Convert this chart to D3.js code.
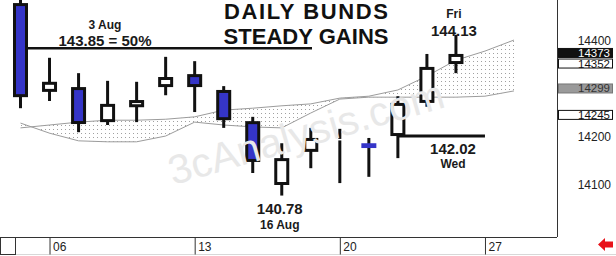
<!DOCTYPE html>
<html>
<head>
<meta charset="utf-8">
<script src="https://cdn.jsdelivr.net/npm/d3@7"></script>
<style>
  body { margin: 0; background: #fff; }
  svg { display: block; font-family: "Liberation Sans", Arial, sans-serif; }
</style>
</head>
<body>
<svg width="616" height="256"></svg>
<script>
// trading days (last two are forward cloud points)
let days   = ["03","06","07","08","09","10","13","14","15","16","17","20","21","22","23","24","27","28"];
let opens  = [14479,14294,14304,14231,14262,14304,14331,14298,14233,14100,14169,14193,14187,14202,14271,14352];
let highs  = [14490,14365,14333,14317,14315,14367,14358,14306,14242,14187,14219,14217,14198,14285,14373,14413];
let lows   = [14260,14275,14210,14225,14231,14287,14252,14219,14125,14078,14135,14104,14117,14156,14263,14333];
let closes = [14283,14315,14227,14269,14277,14325,14304,14235,14148,14156,14198,14196,14177,14271,14346,14373];
let spanA  = [14219,14225,14231,14235,14235,14237,14242,14256,14260,14265,14269,14281,14285,14298,14327,14360,14379,14402];
let spanB  = [14229,14208,14192,14190,14190,14202,14231,14225,14221,14219,14250,14279,14283,14283,14283,14283,14285,14296];
let dayTicks   = ["06","13","20","27"];
let priceTicks = [14100,14200,14400];
let boxValues  = [14373,14352,14299,14245];

let PLOT_W = 557, PLOT_H = 237;
let BLUE = "#3535c8";

let svg = d3.select("svg");

let x = d3.scalePoint().domain(days).range([20.5, 514]);
let y = d3.scaleLinear().domain([14100, 14400]).range([185, 41]);

svg.append("defs").append("clipPath").attr("id", "plot")
   .append("rect").attr("width", PLOT_W).attr("height", PLOT_H);

let dots = svg.select("defs").append("pattern")
   .attr("id", "dots").attr("width", 4).attr("height", 4)
   .attr("patternUnits", "userSpaceOnUse");
dots.append("rect").attr("x", 1).attr("y", 1).attr("width", 1).attr("height", 1).attr("fill", "#a0a0a0");

let plot = svg.append("g").attr("clip-path", "url(#plot)");

// cloud
let area = d3.area()
   .x((d, i) => x(days[i]))
   .y0((d, i) => y(spanA[i]))
   .y1((d, i) => y(spanB[i]));
plot.append("path").attr("d", area(days)).attr("fill", "url(#dots)");
[spanA, spanB].forEach(s => {
    plot.append("path")
        .attr("d", d3.line().x((d, i) => x(days[i])).y(d => y(d))(s))
        .attr("fill", "none").attr("stroke", "#9c9c9c").attr("stroke-width", 1);
});

// watermark
svg.append("text")
   .attr("transform", "translate(310,146) rotate(-16)")
   .attr("text-anchor", "middle")
   .attr("font-size", 41)
   .attr("fill", "#e8e8e8")
   .text("3cAnalysis.com");

// 50% line and Wed line
plot.append("line")
    .attr("x1", x("03")).attr("x2", 312)
    .attr("y1", y(14385)).attr("y2", y(14385))
    .attr("stroke", "#111").attr("stroke-width", 2.5);
plot.append("line")
    .attr("x1", x("22")).attr("x2", x("27"))
    .attr("y1", y(14202)).attr("y2", y(14202))
    .attr("stroke", "#111").attr("stroke-width", 3);

// candles
let candles = plot.selectAll("g.c")
   .data(opens.map((o, i) => ({ day: days[i], o: o, h: highs[i], l: lows[i], c: closes[i] })))
   .enter().append("g");

candles.append("line")
   .attr("x1", d => x(d.day)).attr("x2", d => x(d.day))
   .attr("y1", d => y(d.h)).attr("y2", d => y(d.l))
   .attr("stroke", "#111").attr("stroke-width", 3);

let BW = 15;
candles.append("rect")
   .each(function (d) {
       let top = y(Math.max(d.o, d.c)), bot = y(Math.min(d.o, d.c));
       let h = bot - top;
       let el = d3.select(this);
       let fill = d.c < d.o ? BLUE : "#fff";
       if (h < 7) {
           el.attr("x", x(d.day) - BW / 2).attr("width", BW)
             .attr("y", top).attr("height", Math.max(h, 1.5))
             .attr("fill", fill);
       } else {
           el.attr("x", x(d.day) - BW / 2 + 1.5).attr("width", BW - 3)
             .attr("y", top + 1.5).attr("height", h - 3)
             .attr("fill", fill).attr("stroke", "#111").attr("stroke-width", 3);
       }
   });

// plot frame
svg.append("line").attr("x1", 0).attr("x2", PLOT_W).attr("y1", PLOT_H + 0.5).attr("y2", PLOT_H + 0.5)
   .attr("stroke", "#333").attr("stroke-width", 1);
svg.append("line").attr("x1", PLOT_W + 0.5).attr("x2", PLOT_W + 0.5).attr("y1", 0).attr("y2", PLOT_H)
   .attr("stroke", "#333").attr("stroke-width", 1);
svg.append("line").attr("x1", 0).attr("x2", 616).attr("y1", 254.5).attr("y2", 254.5)
   .attr("stroke", "#d8d8d8");
svg.append("rect").attr("x", 0.5).attr("y", PLOT_H + 0.5).attr("width", 15).attr("height", 17)
   .attr("fill", "none").attr("stroke", "#333");

// x axis
let xAxis = svg.append("g").attr("transform", "translate(0," + (PLOT_H + 0.5) + ")")
   .call(d3.axisBottom(x).tickValues(dayTicks).tickSize(17).tickPadding(0));
xAxis.select(".domain").remove();
xAxis.selectAll(".tick line").attr("stroke", "#333");
xAxis.selectAll(".tick text")
   .attr("text-anchor", "start").attr("dx", 3).attr("y", 5).attr("dy", "0.71em")
   .attr("font-size", 12).attr("font-family", "Liberation Sans, Arial").attr("fill", "#222");

// y axis (right)
let yAxis = svg.append("g").attr("transform", "translate(611,0)")
   .call(d3.axisRight(y).tickValues(priceTicks).tickFormat(d3.format("d")).tickSize(0).tickPadding(0));
yAxis.select(".domain").remove();
yAxis.selectAll(".tick text")
   .attr("text-anchor", "end").attr("font-size", 12)
   .attr("font-family", "Liberation Sans, Arial").attr("fill", "#222");

let boxFill   = ["#111", "#fff", "#9a9a9a", "#fff"];
let boxText   = ["#fff", "#111", "#333", "#111"];
let boxStroke = ["#111", "#111", "#777", "#111"];
let boxShift  = [-5.5, -5, -5.5, -5];
boxValues.forEach((v, i) => {
    svg.append("rect")
       .attr("x", 558.5).attr("y", y(v) + boxShift[i]).attr("width", 54).attr("height", 9)
       .attr("fill", boxFill[i]).attr("stroke", boxStroke[i]).attr("stroke-width", 1);
    svg.append("text")
       .attr("x", 610).attr("y", y(v) + boxShift[i] + 8.5)
       .attr("text-anchor", "end").attr("font-size", 11.5)
       .attr("fill", boxText[i]).text(v);
});

// red arrow
svg.append("path")
   .attr("d", "M598,244.5 L605,238 L605,241.5 L613,241.5 L613,247.5 L605,247.5 L605,251 Z")
   .attr("fill", "#e8121a");

// titles
svg.append("text").attr("x", 306).attr("y", 19).attr("text-anchor", "middle")
   .attr("font-size", 22).attr("font-weight", "bold").attr("fill", "#111")
   .attr("textLength", 164).attr("lengthAdjust", "spacing").text("DAILY BUNDS");
svg.append("text").attr("x", 306).attr("y", 44).attr("text-anchor", "middle")
   .attr("font-size", 22).attr("font-weight", "bold").attr("fill", "#111")
   .attr("textLength", 165).attr("lengthAdjust", "spacing").text("STEADY GAINS");

// annotations
function note(tx, ty, size, str) {
    svg.append("text").attr("x", tx).attr("y", ty).attr("text-anchor", "middle")
       .attr("font-size", size).attr("font-weight", "bold").attr("fill", "#1a1a1a").text(str);
}
note(105, 29, 12, "3 Aug");
note(105, 46, 15, "143.85 = 50%");
note(x("24") - 2, 18, 12, "Fri");
note(x("24") - 2, 36, 15, "144.13");
note(x("16") - 2, 214, 15, "140.78");
note(x("16") - 2, 229, 12, "16 Aug");
note(453, 154, 15, "142.02");
note(453, 168, 12, "Wed");
</script>
</body>
</html>
